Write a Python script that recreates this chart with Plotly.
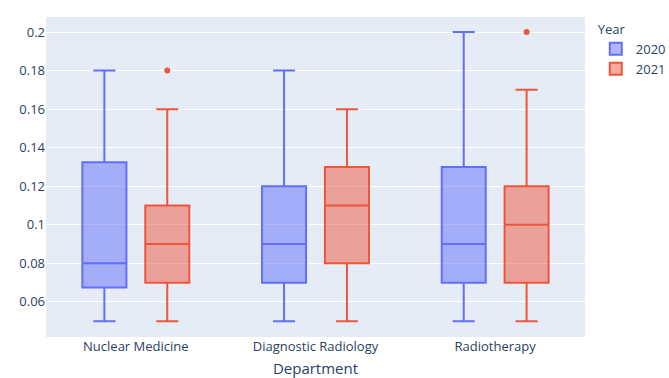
import plotly.graph_objects as go

departments = ["Nuclear Medicine", "Diagnostic Radiology", "Radiotherapy"]

# 2020 box statistics
y2020_low = [0.05, 0.05, 0.05]
y2020_q1 = [0.0675, 0.07, 0.07]
y2020_med = [0.08, 0.09, 0.09]
y2020_q3 = [0.1325, 0.12, 0.13]
y2020_high = [0.18, 0.18, 0.20]

# 2021 box statistics
y2021_low = [0.05, 0.05, 0.05]
y2021_q1 = [0.07, 0.08, 0.07]
y2021_med = [0.09, 0.11, 0.10]
y2021_q3 = [0.11, 0.13, 0.12]
y2021_high = [0.16, 0.16, 0.17]
y2021_outliers = [[0.18], [], [0.20]]

fig = go.Figure()
fig.add_trace(go.Box(
    name="2020", legendgroup="2020", x=departments,
    q1=y2020_q1, median=y2020_med, q3=y2020_q3,
    lowerfence=y2020_low, upperfence=y2020_high,
    marker_color="#636efa",
))
fig.add_trace(go.Box(
    name="2021", legendgroup="2021", x=departments,
    q1=y2021_q1, median=y2021_med, q3=y2021_q3,
    lowerfence=y2021_low, upperfence=y2021_high,
    y=y2021_outliers, boxpoints="outliers",
    marker_color="#EF553B",
))

fig.update_layout(
    template="plotly",
    width=669, height=378,
    font=dict(size=13),
    margin=dict(l=46, r=84, t=17, b=41, autoexpand=False),
    boxmode="group",
    showlegend=True,
    legend=dict(title=dict(text="Year", font=dict(size=13)), tracegroupgap=0,
                x=1.02, y=1, yanchor="top", font=dict(size=13)),
    xaxis=dict(automargin=False, tickfont=dict(size=13),
               title=dict(text="Department", standoff=11, font=dict(size=15))),
    yaxis=dict(automargin=False, tickfont=dict(size=13),
               range=[0.0418, 0.2078], tickvals=[0.06, 0.08, 0.1, 0.12, 0.14, 0.16, 0.18, 0.2],
               ticktext=["0.06", "0.08", "0.1", "0.12", "0.14", "0.16", "0.18", "0.2"]),
)

fig.write_html(
    "out.html",
    config={"displayModeBar": False},
    post_script="document.body.style.margin='0';document.body.style.overflow='hidden';",
)
